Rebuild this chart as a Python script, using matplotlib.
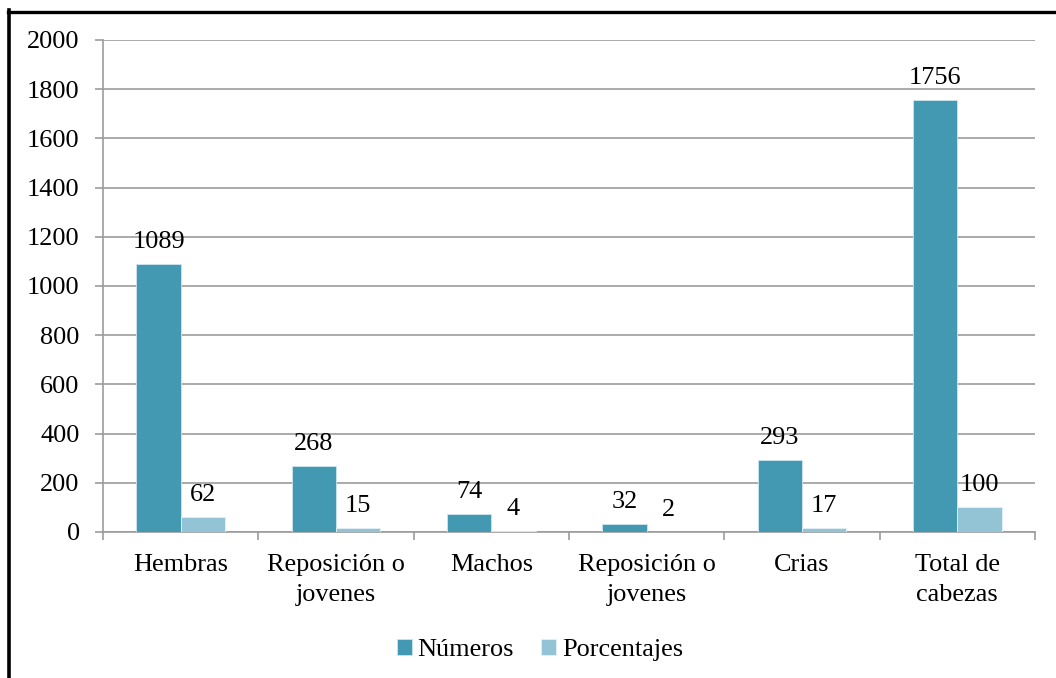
import matplotlib
matplotlib.use("Agg")
import matplotlib.pyplot as plt
import numpy as np
from matplotlib.lines import Line2D

plt.rcParams['font.family'] = ['Liberation Serif', 'DejaVu Serif']

categories = ["Hembras", "Reposición o\njovenes", "Machos", "Reposición o\njovenes", "Crias", "Total de\ncabezas"]
numeros = [1089, 268, 74, 32, 293, 1756]
porcentajes = [62, 15, 4, 2, 17, 100]
yticks = [0, 200, 400, 600, 800, 1000, 1200, 1400, 1600, 1800, 2000]

c_dark = "#4399B1"
c_light = "#93C4D6"
grid_c = "#9C9C9C"
fs = 18.9

W, H = 1056, 678
fig = plt.figure(figsize=(W / 100, H / 100), dpi=100)
ax = fig.add_axes([103 / W, 1 - 532 / H, (1035 - 103) / W, (532 - 40) / H])

x = np.arange(len(categories))
bw = 0.285
b1 = ax.bar(x - bw / 2, numeros, bw, color=c_dark, edgecolor="#cfe6ee", linewidth=0.6, label="Números", zorder=3)
b2 = ax.bar(x + bw / 2, porcentajes, bw, color=c_light, edgecolor="#e4f1f6", linewidth=0.6, label="Porcentajes", zorder=3)

for bars, vals in ((b1, numeros), (b2, porcentajes)):
    for r, v in zip(bars, vals):
        ax.annotate(str(v), (r.get_x() + r.get_width() / 2, r.get_height()),
                    xytext=(0, 11.5), textcoords="offset points",
                    ha="center", va="baseline", fontsize=fs, zorder=4)

ax.set_xlim(-0.5, len(categories) - 0.5)
ax.set_ylim(0, 2000)
ax.set_yticks(yticks)
ax.set_yticklabels([str(v) for v in yticks])
ax.set_xticks(x)
ax.set_xticklabels(categories, linespacing=1.5)
ax.set_xticks(np.arange(-0.5, len(categories)), minor=True)

ax.tick_params(axis="x", which="major", length=0, pad=15.6, labelsize=fs)
ax.tick_params(axis="x", which="minor", length=6, width=1.2, color=grid_c, direction="out")
ax.tick_params(axis="y", length=6, width=1.2, color=grid_c, pad=10.8, labelsize=fs)

ax.yaxis.grid(True, color=grid_c, linewidth=1.2, zorder=0)
ax.set_axisbelow(True)
for s in ("top", "right"):
    ax.spines[s].set_visible(False)
for s in ("left", "bottom"):
    ax.spines[s].set_color(grid_c)
    ax.spines[s].set_linewidth(1.2)

fig.legend(handles=[b1, b2], labels=["Números", "Porcentajes"], loc="center",
           bbox_to_anchor=(540 / W, 1 - 650 / H), ncol=2, frameon=False,
           fontsize=fs, handlelength=0.56, handleheight=0.56,
           handletextpad=0.23, columnspacing=1.04)

# outer frame (left and top edges visible)
fig.add_artist(Line2D([9.3 / W, 9.3 / W], [0, 1 - 10 / H], color="black", linewidth=2.6, transform=fig.transFigure))
fig.add_artist(Line2D([8 / W, 1], [1 - 11.5 / H, 1 - 11.5 / H], color="black", linewidth=2.4, transform=fig.transFigure))

fig.savefig("out.png", dpi=100, facecolor="white")
